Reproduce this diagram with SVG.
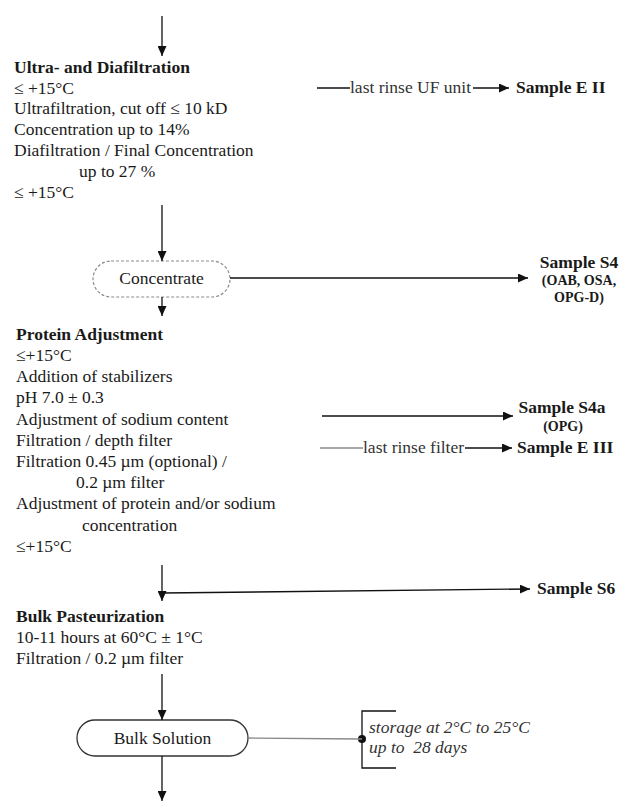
<svg xmlns="http://www.w3.org/2000/svg" width="620" height="809" viewBox="0 0 620 809">
  <style>
    text { fill: #1a1a1a; font-size: 17.5px; }
    .b { font-weight: bold; }
    .sm { font-size: 14px; font-weight: bold; }
    .it { font-style: italic; font-size: 17.5px; fill: #333; }
    .lbl { fill: #333; }
    .ln { fill: none; stroke: #111; stroke-width: 1.3; }
    .lg { fill: none; stroke: #888; stroke-width: 1.3; }
    .arr { fill: none; stroke: #111; stroke-width: 1.3; marker-end: url(#ah); }
  </style>
  <defs>
    <marker id="ah" markerUnits="userSpaceOnUse" markerWidth="10" markerHeight="9" refX="10" refY="4.5" orient="auto">
      <path d="M0,0 L10,4.5 L0,9 Z" fill="#111"/>
    </marker>
  </defs>
  <rect width="620" height="809" fill="#fff"/>

  <g font-family="Liberation Serif, DejaVu Serif, serif">
  <!-- process steps -->
  <g id="ultra-diafiltration">
    <text class="b" x="14" y="73">Ultra- and Diafiltration</text>
    <text x="14" y="94">≤ +15°C</text>
    <text x="14" y="114">Ultrafiltration, cut off ≤ 10 kD</text>
    <text x="14" y="135">Concentration up to 14%</text>
    <text x="14" y="156">Diafiltration / Final Concentration</text>
    <text x="79" y="177">up to 27 %</text>
    <text x="14" y="198">≤ +15°C</text>
  </g>

  <g id="concentrate">
    <rect x="93" y="261" width="137" height="36" rx="18" fill="#fff" stroke="#8a8a8a" stroke-width="1.2" stroke-dasharray="3,2"/>
    <text x="161.5" y="284" text-anchor="middle">Concentrate</text>
  </g>

  <g id="protein-adjustment">
    <text class="b" x="16" y="340">Protein Adjustment</text>
    <text x="16" y="361">≤+15°C</text>
    <text x="16" y="382">Addition of stabilizers</text>
    <text x="16" y="403">pH 7.0 ± 0.3</text>
    <text x="16" y="424.5">Adjustment of sodium content</text>
    <text x="16" y="446">Filtration / depth filter</text>
    <text x="16" y="467">Filtration 0.45 µm (optional) /</text>
    <text x="76" y="488">0.2 µm filter</text>
    <text x="16" y="509">Adjustment of protein and/or sodium</text>
    <text x="82" y="531">concentration</text>
    <text x="16" y="552">≤+15°C</text>
  </g>

  <g id="bulk-pasteurization">
    <text class="b" x="16" y="622">Bulk Pasteurization</text>
    <text x="16" y="643">10-11 hours at 60°C ± 1°C</text>
    <text x="16" y="664">Filtration / 0.2 µm filter</text>
  </g>

  <g id="bulk-solution">
    <rect x="77" y="720" width="171" height="36" rx="18" fill="#fff" stroke="#333" stroke-width="1.3"/>
    <text x="162.5" y="744" text-anchor="middle">Bulk Solution</text>
  </g>

  <!-- sampling points -->
  <g id="sample-e2">
    <text class="b" x="516" y="93">Sample E II</text>
  </g>
  <g id="sample-s4">
    <text class="b" x="579" y="268" text-anchor="middle">Sample S4</text>
    <text class="sm" x="579" y="285" text-anchor="middle">(OAB, OSA,</text>
    <text class="sm" x="579" y="302" text-anchor="middle">OPG-D)</text>
  </g>
  <g id="sample-s4a">
    <text class="b" x="562" y="413" text-anchor="middle">Sample S4a</text>
    <text class="sm" x="563" y="431" text-anchor="middle">(OPG)</text>
  </g>
  <g id="sample-e3">
    <text class="b" x="517" y="453">Sample E III</text>
  </g>
  <g id="sample-s6">
    <text class="b" x="537" y="594">Sample S6</text>
  </g>

  <g id="storage-note">
    <path class="ln" d="M396,711 H362 V768 H396"/>
    <circle cx="362" cy="739" r="4" fill="#111"/>
    <text class="it" x="369" y="733">storage at 2°C to 25°C</text>
    <text class="it" x="369" y="753" xml:space="preserve">up to  28 days</text>
  </g>

  <!-- connectors -->
  <g id="connectors">
    <path class="arr" d="M162,16 V56"/>
    <path class="arr" d="M162,205 V261"/>
    <path class="arr" d="M162,297 V316"/>
    <path class="arr" d="M162,565 V601"/>
    <path class="arr" d="M162,674 V720"/>
    <path class="arr" d="M162,756 V801"/>

    <path class="ln" d="M317,88 H350"/>
    <text class="lbl" x="350" y="93">last rinse UF unit</text>
    <path class="arr" d="M473,88 H509"/>

    <path class="arr" d="M230,278 H528"/>
    <path class="arr" d="M322,416 H513"/>

    <path class="lg" d="M320,448 H363"/>
    <text class="lbl" x="363" y="453">last rinse filter</text>
    <path class="arr" d="M465,448 H512"/>

    <path class="arr" d="M163,593 L530,589"/>
    <path class="lg" d="M248,738 L362,739"/>
  </g>
  </g>
</svg>
